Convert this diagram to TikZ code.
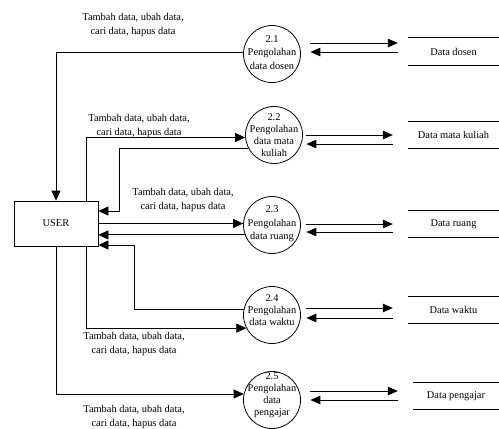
\documentclass[tikz,border=0pt]{standalone}
\usepackage{fontspec}
\setmainfont{Liberation Serif}
\usetikzlibrary{arrows.meta,calc}
\begin{document}
\begin{tikzpicture}[x=1pt,y=-1pt,
  every node/.style={font=\fontsize{10.4}{13.5}\selectfont, align=center, inner sep=0pt},
  proc/.style={circle, draw, line width=0.8pt, minimum size=57pt},
  four/.style={font=\fontsize{10.4}{12}\selectfont},
  lbl/.style={font=\fontsize{10.4}{14}\selectfont},
  link/.style={line width=0.8pt},
  arr/.style={link, -{Triangle[length=10pt,width=9pt]}},
  flow/.style={line width=1pt, -{Triangle[length=10pt,width=8.5pt]}},
  store/.style={minimum width=91pt, minimum height=27pt},
  box/.style={draw, line width=0.8pt, minimum width=84pt, minimum height=45pt}]
\useasboundingbox (0,0) rectangle (499,429);

% external entity
\node[box] (user) at (56,223.5) {USER};

% processes
\node[proc] (c1) at (272,54) {};
\node (t1) at (272,52.5) {2.1\\Pengolahan\\data dosen};
\node[proc] (c2) at (274,135) {};
\node[four] (t2) at (274,135) {2.2\\Pengolahan\\data mata\\kuliah};
\node[proc] (c3) at (272,225) {};
\node (t3) at (272,224) {2.3\\Pengolahan\\data ruang};
\node[proc] (c4) at (272,315) {};
\node[four] (t4) at (272,310) {2.4\\Pengolahan\\data waktu};
\node[proc] (c5) at (272,400) {};
\node[four] (t5) at (272,395) {2.5\\Pengolahan\\data\\pengajar};

% data stores
\node[store] (d1) at (453.5,51.5) {Data dosen};
\node[store] (d2) at (453.5,135) {Data mata kuliah};
\node[store] (d3) at (453.5,224) {Data ruang};
\node[store] (d4) at (453.5,310) {Data waktu};
\node[store, minimum width=86pt] (d5) at (456,396) {Data pengajar};
\foreach \d in {d1,d2,d3,d4,d5}{
  \draw[link] (\d.north west) -- (\d.north east) (\d.south west) -- (\d.south east);
}

% process <-> store flows
\draw[flow, shorten <=9.5pt, shorten >=10pt] (c1.east |- 0,43) -- (d1.west |- 0,43);
\draw[flow, shorten <=10pt, shorten >=9.5pt] (d1.west |- 0,52) -- (c1.east |- 0,52);
\draw[flow, shorten <=3.5pt, shorten >=15pt] (c2.east |- 0,135) -- (d2.west |- 0,135);
\draw[flow, shorten <=15pt, shorten >=3.5pt] (d2.west |- 0,144) -- (c2.east |- 0,144);
\draw[flow, shorten <=5.5pt, shorten >=15pt] (c3.east |- 0,224) -- (d3.west |- 0,224);
\draw[flow, shorten <=15pt, shorten >=5.5pt] (d3.west |- 0,232) -- (c3.east |- 0,232);
\draw[flow, shorten <=5.5pt, shorten >=15pt] (c4.east |- 0,308) -- (d4.west |- 0,308);
\draw[flow, shorten <=15pt, shorten >=5.5pt] (d4.west |- 0,318) -- (c4.east |- 0,318);
\draw[flow, shorten <=9.5pt, shorten >=15pt] (c5.east |- 0,391) -- (d5.west |- 0,391);
\draw[flow, shorten <=15pt, shorten >=9.5pt] (d5.west |- 0,400) -- (c5.east |- 0,400);

% user <-> process flows
\coordinate (j3) at (119,211);
\coordinate (j6) at (134,245);
\draw[arr] (c1.176) -| (user.north);
\draw[arr] ([xshift=-12pt]user.north east) |- (c2.185);
\draw[arr] (c2.208) -| (j3) -- (j3 -| user.east);
\draw[arr] (user.east) -- (user.east -| c3.west);
\draw[arr] (c3.200) -- (c3.200 -| user.east);
\draw[arr] (c4.168) -| (j6) -- (j6 -| user.east);
\draw[arr] ([xshift=-12pt]user.south east) |- (c4.207);
\draw[arr] (user.south) |- (c5.168);

% flow labels
\node[lbl] (l1) at (133,25) {Tambah data, ubah data,\\cari data, hapus data};
\node[lbl] (l2) at (139,126) {Tambah data, ubah data,\\cari data, hapus data};
\node[lbl] (l3) at (183,200) {Tambah data, ubah data,\\cari data, hapus data};
\node[lbl] (l7) at (134,344) {Tambah data, ubah data,\\cari data, hapus data};
\node[lbl] (l8) at (134,417) {Tambah data, ubah data,\\cari data, hapus data};
\end{tikzpicture}
\end{document}
